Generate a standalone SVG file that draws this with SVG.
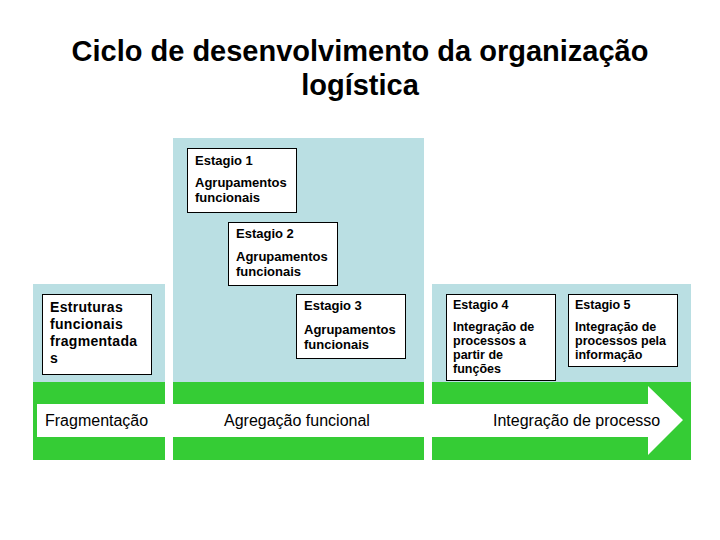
<svg xmlns="http://www.w3.org/2000/svg" width="720" height="540" viewBox="0 0 720 540">
<style>
.panel{fill:#BADFE3}
.green{fill:#35CC35}
.box{fill:#ffffff;stroke:#000000;stroke-width:1}
.t{font-family:"Liberation Sans",Arial,sans-serif;font-weight:bold;font-size:13px;fill:#000}
.s{font-family:"Liberation Sans",Arial,sans-serif;font-weight:bold;font-size:12.5px;fill:#000}
.l{font-family:"Liberation Sans",Arial,sans-serif;font-weight:bold;font-size:14px;letter-spacing:0.3px;fill:#000}
.band{font-family:"Liberation Sans",Arial,sans-serif;font-size:16px;fill:#000}
.title{font-family:"Liberation Sans",Arial,sans-serif;font-weight:bold;font-size:29px;fill:#000;text-anchor:middle}
</style>
<rect width="720" height="540" fill="#ffffff"/>
<g id="title">
<text class="title" x="360" y="61">Ciclo de desenvolvimento da organização</text>
<text class="title" x="360" y="95">logística</text>
</g>
<g id="panels">
<rect class="panel" x="33" y="284" width="132" height="98"/>
<rect class="panel" x="173" y="138" width="251" height="244"/>
<rect class="panel" x="432" y="284" width="259" height="98"/>
<rect class="green" x="33" y="382" width="132" height="78"/>
<rect class="green" x="173" y="382" width="251" height="78"/>
<rect class="green" x="432" y="382" width="259" height="78"/>
</g>
<g id="connectors">
<polygon id="arrow" points="37,404 648,404 648,386 683,420 648,455 648,437 37,437" fill="#ffffff"/>
</g>
<g id="labels">
<text class="band" x="45" y="426">Fragmentação</text>
<text class="band" x="224" y="426">Agregação funcional</text>
<text class="band" x="493" y="426">Integração de processo</text>
</g>
<g id="box-estruturas">
<rect class="box" x="42.5" y="294.5" width="109" height="80" stroke="#333"/>
<text class="l" x="50" y="312">Estruturas</text>
<text class="l" x="50" y="329">funcionais</text>
<text class="l" x="50" y="346">fragmentada</text>
<text class="l" x="50" y="363">s</text>
</g>
<g id="box-estagio1">
<rect class="box" x="187.5" y="148.5" width="109" height="64"/>
<text class="t" x="195" y="165">Estagio 1</text>
<text class="t" x="195" y="187">Agrupamentos</text>
<text class="t" x="195" y="202">funcionais</text>
</g>
<g id="box-estagio2">
<rect class="box" x="228.5" y="222.5" width="109" height="63"/>
<text class="t" x="236" y="238">Estagio 2</text>
<text class="t" x="236" y="261">Agrupamentos</text>
<text class="t" x="236" y="276">funcionais</text>
</g>
<g id="box-estagio3">
<rect class="box" x="296.5" y="294.5" width="109" height="64"/>
<text class="t" x="304" y="310">Estagio 3</text>
<text class="t" x="304" y="334">Agrupamentos</text>
<text class="t" x="304" y="349">funcionais</text>
</g>
<g id="box-estagio4">
<rect class="box" x="446.5" y="294.5" width="109" height="86"/>
<text class="s" x="453" y="309">Estagio 4</text>
<text class="s" x="453" y="331">Integração de</text>
<text class="s" x="453" y="345">processos a</text>
<text class="s" x="453" y="359">partir de</text>
<text class="s" x="453" y="373">funções</text>
</g>
<g id="box-estagio5">
<rect class="box" x="568.5" y="294.5" width="109" height="72"/>
<text class="s" x="575" y="309">Estagio 5</text>
<text class="s" x="575" y="331">Integração de</text>
<text class="s" x="575" y="345">processos pela</text>
<text class="s" x="575" y="359">informação</text>
</g>
</svg>
